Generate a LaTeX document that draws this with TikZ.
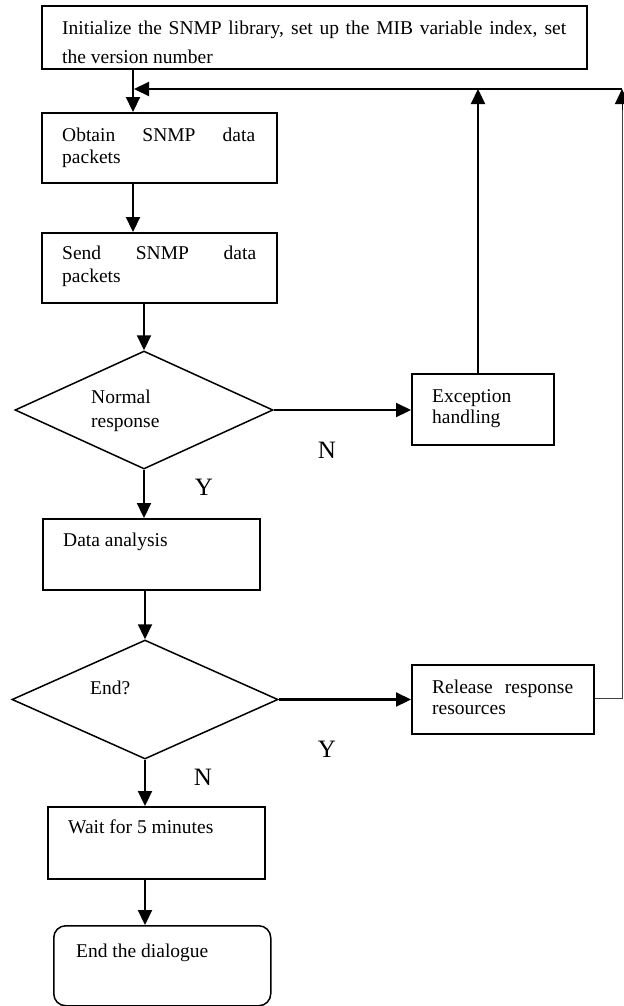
\documentclass[tikz,border=0pt]{standalone}
\usepackage{fontspec}
\setmainfont{Liberation Serif}
\usetikzlibrary{shapes.geometric,arrows.meta}
\begin{document}
\begin{tikzpicture}[x=1bp,y=-1bp,
  box/.style={draw,line width=1.5bp,inner sep=0,anchor=north west},
  decision/.style={draw,diamond,line width=1.5bp,inner sep=0},
  txt/.style={anchor=base west,inner sep=0,font=\fontsize{19.5bp}{22bp}\selectfont},
  yn/.style={anchor=base,inner sep=0,font=\fontsize{25bp}{28bp}\selectfont},
  arr/.style={line width=2.2bp,-{Triangle[length=15bp,width=14bp]}},
  loopline/.style={line width=1bp,draw=black!75}]
\useasboundingbox (0,0) rectangle (624,1006);

% process boxes
\node[box,minimum width=545bp,minimum height=63bp] (init) at (41,5) {};
\node[box,minimum width=235bp,minimum height=70bp] (obtain) at (41,112) {};
\node[box,minimum width=235bp,minimum height=70bp] (send) at (41,232) {};
\node[decision,minimum width=258bp,minimum height=118bp] (d1) at (144,410) {};
\node[box,minimum width=142bp,minimum height=71bp] (exc) at (411,373) {};
\node[box,minimum width=217bp,minimum height=71bp] (data) at (42,518) {};
\node[decision,minimum width=266bp,minimum height=119bp] (d2) at (145,699.5) {};
\node[box,minimum width=182bp,minimum height=69bp] (rel) at (411,664) {};
\node[box,minimum width=217bp,minimum height=72bp] (wait) at (47,806) {};
\node[box,minimum width=217bp,minimum height=80bp,rounded corners=12bp] (stop) at (53,925) {};

% box texts
\node[txt] (t1a) at (62,34) {\makebox[504bp][s]{Initialize the SNMP library, set up the MIB variable index, set}};
\node[txt] (t1b) at (62,63) {the version number};
\node[txt] (t2a) at (62,141) {\hbox to 193bp{Obtain\hfill SNMP\hfill data}};
\node[txt] (t2b) at (62,163) {packets};
\node[txt] (t3a) at (62,259) {\hbox to 194bp{Send\hfill SNMP\hfill data}};
\node[txt] (t3b) at (62,282) {packets};
\node[txt] (t4a) at (91,403) {Normal};
\node[txt] (t4b) at (91,427) {response};
\node[txt] (t5a) at (432,402) {Exception};
\node[txt] (t5b) at (432,423) {handling};
\node[txt] (t6) at (63,546) {Data analysis};
\node[txt] (t7) at (90,694) {End?};
\node[txt] (t8a) at (432,693) {\makebox[141bp][s]{Release response}};
\node[txt] (t8b) at (432,714) {resources};
\node[txt] (t9) at (68,833) {Wait for 5 minutes};
\node[txt] (t10) at (76,957) {End the dialogue};

% branch labels
\node[yn] (n1) at (327,458) {N};
\node[yn] (y1) at (204,495) {Y};
\node[yn] (y2) at (327,757) {Y};
\node[yn] (n2) at (203,785) {N};

% helper points
\coordinate (mainx) at (133,0);
\coordinate (fbL) at (134,89);
\coordinate (fbE) at (478,89);
\coordinate (fbR) at (622,89);
\coordinate (fbRb) at (622,698);

% main flow
\draw[arr] (init.south -| mainx) -- (obtain.north -| mainx);
\draw[arr] (obtain.south -| mainx) -- (send.north -| mainx);
\draw[arr] (send.south -| d1.north) -- (d1.north);
\draw[arr] (d1.east) -- (d1.east -| exc.west);
\draw[arr] (d1.south) -- (d1.south |- data.north);
\draw[arr] (data.south -| d2.north) -- (d2.north);
\draw[arr] (d2.east) -- (d2.east -| rel.west);
\draw[arr] (d2.south) -- (d2.south |- wait.north);
\draw[arr] (wait.south -| d2.south) -- (stop.north -| d2.south);

% feedback loops
\draw[arr] (exc.north -| fbE) -- (fbE);
\draw[loopline] (rel.east |- fbRb) -- (fbRb) -- (622,100);
\draw[arr,line width=1bp] (622,110) -- (fbR);
\draw[arr] (fbR) -- (fbL);
\end{tikzpicture}
\end{document}
